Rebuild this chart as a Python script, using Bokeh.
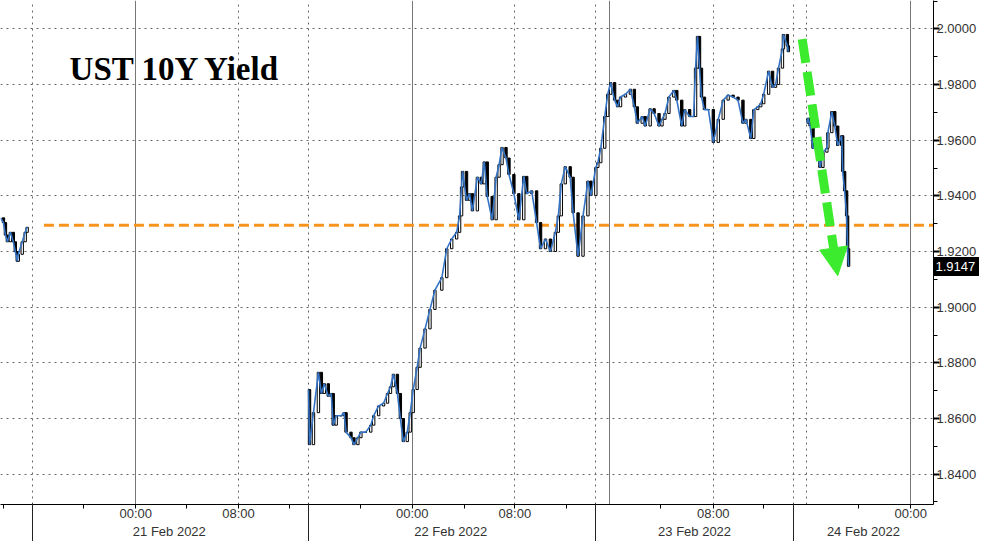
from bokeh.plotting import figure
from bokeh.models import (FixedTicker, LinearAxis, Grid, Range1d, Label, Arrow,
                          NormalHead, ColumnDataSource, NumeralTickFormatter)
from bokeh.embed import file_html
from bokeh.resources import INLINE

# ---------------- data (x = compressed session time index) ----------------
sess1_t = [0, 3, 5, 7, 10, 13, 15, 17, 18, 22, 25, 27]
sess1_v = [1.9321, 1.9304, 1.9259, 1.9235, 1.9269, 1.9235, 1.9200, 1.9165,
           1.9190, 1.9235, 1.9269, 1.9287]

sess2_t = [312, 313, 317, 322, 325, 328, 332, 335, 337, 340,
           345, 348, 350, 355, 358, 362, 365, 370, 375, 378,
           383, 388, 392, 395, 398, 402, 405, 408, 412, 415,
           418, 422, 425, 430, 435, 440, 447, 452, 457, 462,
           465, 467, 468, 472, 475, 478, 483, 487, 490, 493,
           498, 502, 505, 508, 512, 515, 520, 525, 530, 533,
           538, 543, 547, 552, 557, 562, 565, 568, 572, 577,
           580, 585, 590, 595, 598, 603, 605, 608, 612, 615,
           618, 622, 625, 628, 633, 638, 642, 645, 650, 653,
           658, 662, 667, 670, 673, 677, 682, 685, 690, 693,
           698, 702, 704, 706, 708, 710, 713, 717, 722, 727,
           732, 737, 742, 747, 752, 755, 760, 763, 767, 770,
           773, 778, 782, 785, 788, 792, 793, 797, 798]
sess2_v = [1.8704, 1.8506, 1.8621, 1.8766, 1.8690, 1.8725, 1.8680, 1.8690, 1.8576, 1.8610,
           1.8610, 1.8621, 1.8551, 1.8531, 1.8506, 1.8531, 1.8551, 1.8551, 1.8576, 1.8610,
           1.8645, 1.8655, 1.8690, 1.8714, 1.8759, 1.8690, 1.8600, 1.8517, 1.8551, 1.8621,
           1.8704, 1.8784, 1.8853, 1.8922, 1.8992, 1.9061, 1.9106, 1.9210, 1.9245, 1.9269,
           1.9328, 1.9432, 1.9488, 1.9384, 1.9408, 1.9346, 1.9467, 1.9443, 1.9522, 1.9398,
           1.9314, 1.9467, 1.9512, 1.9574, 1.9536, 1.9477, 1.9408, 1.9314, 1.9470, 1.9408,
           1.9418, 1.9304, 1.9210, 1.9245, 1.9200, 1.9269, 1.9328, 1.9443, 1.9505, 1.9467,
           1.9339, 1.9183, 1.9328, 1.9453, 1.9401, 1.9502, 1.9519, 1.9571, 1.9685, 1.9765,
           1.9807, 1.9744, 1.9720, 1.9755, 1.9765, 1.9783, 1.9720, 1.9661, 1.9685, 1.9651,
           1.9713, 1.9696, 1.9651, 1.9675, 1.9696, 1.9755, 1.9779, 1.9744, 1.9651, 1.9710,
           1.9685, 1.9685, 1.9859, 1.9973, 1.9859, 1.9755, 1.9710, 1.9710, 1.9592, 1.9675,
           1.9744, 1.9762, 1.9755, 1.9744, 1.9661, 1.9675, 1.9606, 1.9710, 1.9720, 1.9731,
           1.9765, 1.9848, 1.9790, 1.9800, 1.9859, 1.9928, 1.9980, 1.9939, 1.9918]

sess3_t = [817, 818, 820, 823, 827, 830, 833, 837, 838, 842, 845, 848, 852, 853, 855, 857, 858, 859]
sess3_v = [1.9661, 1.9679, 1.9651, 1.9571, 1.9581, 1.9502, 1.9557, 1.9571, 1.9627, 1.9703,
           1.9651, 1.9581, 1.9616, 1.9488, 1.9418, 1.9328, 1.9210, 1.9147]

last_value = 1.9147
ref_level = 1.9294          # orange dashed reference level
ref_start = 44

y_ticks = [1.84, 1.86, 1.88, 1.90, 1.92, 1.94, 1.96, 1.98, 2.00]
y_minor = [1.83, 1.85, 1.87, 1.89, 1.91, 1.93, 1.95, 1.97, 1.99, 2.01]

time_ticks = [137, 241, 417, 521, 722, 922]
time_labels = ["00:00", "08:00", "00:00", "08:00", "08:00", "00:00"]
four_hour_ticks = [3, 84, 188, 293, 365, 470, 573, 668, 773, 869]
midnight_lines = [137, 417, 617, 922]
dotted_lines = [32, 241, 312, 521, 603, 722, 803, 816]
day_separators = [32, 312, 603, 803]
date_pos = [171, 456, 703, 874]
date_labels = ["21 Feb 2022", "22 Feb 2022", "23 Feb 2022", "24 Feb 2022"]

title_text = "UST 10Y Yield"

# ---------------- styling constants ----------------
BLUE = "#3473C4"
ORANGE = "#F7941E"
GREEN = "#3CEB2D"
FONT = "Liberation Sans"

p = figure(width=979, height=541, x_range=Range1d(0, 945), y_range=Range1d(1.8291, 2.0102),
           output_backend="svg", toolbar_location=None, y_axis_location="right",
           min_border=0, outline_line_color=None,
           background_fill_color="white", border_fill_color="white")

# grids
p.ygrid.ticker = FixedTicker(ticks=y_ticks)
p.ygrid.grid_line_color = "#666666"
p.ygrid.grid_line_dash = "2 4"
p.xgrid.ticker = FixedTicker(ticks=midnight_lines)
p.xgrid.grid_line_color = "#777777"
p.xgrid.grid_line_width = 1
dgrid = Grid(dimension=0, ticker=FixedTicker(ticks=dotted_lines),
             grid_line_color="#666666", grid_line_dash="2 4")
p.add_layout(dgrid)

# y axis (right)
ya = p.yaxis[0]
ya.ticker = FixedTicker(ticks=y_ticks, minor_ticks=y_minor)
ya.formatter = NumeralTickFormatter(format="0.0000")
ya.axis_line_color = "black"
ya.major_tick_in = 0
ya.major_tick_out = 6
ya.major_tick_line_width = 2
ya.major_tick_line_color = "black"
ya.minor_tick_in = 0
ya.minor_tick_out = 4
ya.minor_tick_line_color = "black"
ya.major_label_standoff = -3
ya.major_label_text_font = FONT
ya.major_label_text_font_size = "13px"
ya.major_label_text_color = "#333333"

# last-price marker: a second right axis whose single tick is a thick black bar
pa = LinearAxis(ticker=FixedTicker(ticks=[last_value]),
                formatter=NumeralTickFormatter(format="0.0000"))
pa.axis_line_color = None
pa.minor_tick_line_color = None
pa.major_tick_in = 46
pa.major_tick_out = 0
pa.major_tick_line_width = 19
pa.major_tick_line_color = "black"
pa.major_label_standoff = -44
pa.major_label_text_font = FONT
pa.major_label_text_font_size = "13px"
pa.major_label_text_color = "white"
p.add_layout(pa, "right")

# x axis (times)
xa = p.xaxis[0]
xa.ticker = FixedTicker(ticks=time_ticks, minor_ticks=four_hour_ticks)
xa.major_label_overrides = {t: l for t, l in zip(time_ticks, time_labels)}
xa.axis_line_color = "black"
xa.major_tick_in = 0
xa.major_tick_out = 4
xa.major_tick_line_color = "black"
xa.minor_tick_in = 0
xa.minor_tick_out = 4
xa.minor_tick_line_color = "black"
xa.major_label_standoff = -3
xa.major_label_text_font = FONT
xa.major_label_text_font_size = "13px"
xa.major_label_text_color = "#333333"

# date axis with day separators
da = LinearAxis(ticker=FixedTicker(ticks=date_pos, minor_ticks=day_separators))
da.major_label_overrides = {t: l for t, l in zip(date_pos, date_labels)}
da.axis_line_color = None
da.major_tick_line_color = None
da.major_tick_in = 0
da.major_tick_out = 0
da.minor_tick_in = 20
da.minor_tick_out = 26
da.minor_tick_line_color = "#222222"
da.major_label_standoff = -26
da.major_label_text_font = FONT
da.major_label_text_font_size = "13px"
da.major_label_text_color = "#333333"
p.add_layout(da, "below")

# orange reference level
p.segment(x0=[ref_start], y0=[ref_level], x1=[945], y1=[ref_level],
          line_color=ORANGE, line_width=3, line_dash="10 5")

# candles + close line
for ts, vs in [(sess1_t, sess1_v), (sess2_t, sess2_v), (sess3_t, sess3_v)]:
    xs, tops, bots, fills = [], [], [], []
    for i in range(1, len(ts)):
        o, c = vs[i - 1], vs[i]
        xs.append(ts[i])
        tops.append(max(o, c))
        bots.append(min(o, c))
        fills.append("white" if c >= o else "black")
    src = ColumnDataSource(dict(x=xs, top=tops, bottom=bots, fill=fills))
    p.vbar(x="x", top="top", bottom="bottom", width=2.4, source=src,
           fill_color="fill", line_color="black", line_width=1)
    p.line(ts, vs, line_color=BLUE, line_width=1.6)

# title
p.add_layout(Label(x=70, y=1.9855, text=title_text, text_font="Liberation Serif",
                   text_font_style="bold", text_font_size="33px", text_color="black",
                   text_baseline="alphabetic"))

# green arrow
p.add_layout(Arrow(end=NormalHead(size=28, fill_color=GREEN, line_color=GREEN),
                   x_start=812, y_start=1.9963, x_end=848, y_end=1.9113,
                   line_color=GREEN, line_width=9, line_dash="24 9"))

open("out.html", "w").write(file_html(p, INLINE))
